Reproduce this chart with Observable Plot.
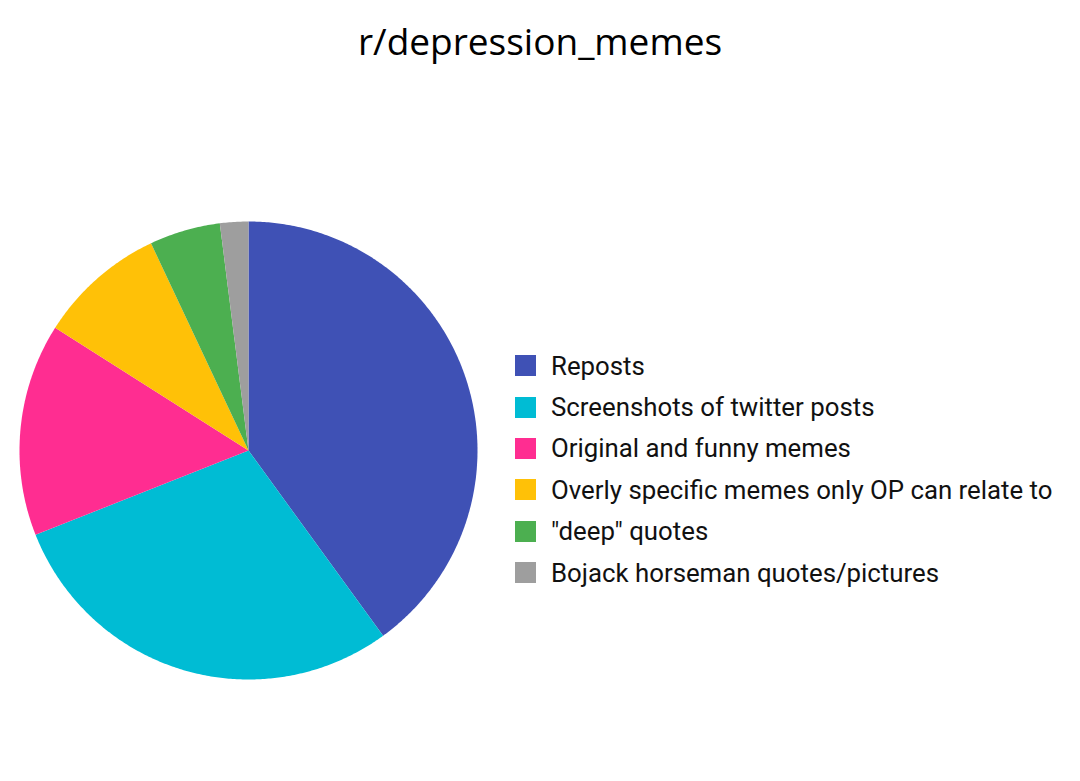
<!DOCTYPE html>
<html>
<head>
<meta charset="utf-8">
<script src="https://cdn.jsdelivr.net/npm/d3@7"></script>
<script src="https://cdn.jsdelivr.net/npm/@observablehq/plot@0.6"></script>
<style>
  html, body { margin: 0; padding: 0; background: #fff; }
  body { width: 1080px; height: 781px; position: relative; overflow: hidden; }
  #title { position: absolute; left: 0; top: 16px; width: 1080px; text-align: center;
    font-family: "Open Sans", sans-serif; font-size: 37px; color: #000; line-height: 50px; }
  #pie { position: absolute; left: 18px; top: 220px; }
  #legend { position: absolute; left: 515px; top: 345px; font-family: Roboto, sans-serif; font-size: 25.8px; color: #111; }
  .row { display: flex; align-items: center; height: 41.4px; }
  .sw { width: 21px; height: 21px; margin-right: 15px; }
</style>
</head>
<body>
<div id="title">r/depression_memes</div>
<div id="pie"></div>
<div id="legend"></div>
<script>
const categories = ["Reposts", "Screenshots of twitter posts", "Original and funny memes",
  "Overly specific memes only OP can relate to", "\"deep\" quotes", "Bojack horseman quotes/pictures"];
const values = [40, 29, 15, 9, 5, 2];
const colors = ["#3f51b5", "#00bcd4", "#ff2d91", "#ffc107", "#4caf50", "#9e9e9e"];

const arcs = d3.pie().sort(null).value(d => d.value)(categories.map((c, i) => ({category: c, value: values[i]})));
const pts = [];
for (const a of arcs) {
  const c = a.data.category;
  pts.push({category: c, x: 0, y: 0});
  const n = Math.max(2, Math.ceil((a.endAngle - a.startAngle) / (Math.PI / 360)));
  for (let k = 0; k <= n; k++) {
    const t = a.startAngle + (a.endAngle - a.startAngle) * k / n;
    pts.push({category: c, x: Math.sin(t), y: Math.cos(t)});
  }
}

const chart = Plot.plot({
  width: 460, height: 460, margin: 1,
  x: {domain: [-1, 1], axis: null},
  y: {domain: [-1, 1], axis: null},
  color: {domain: categories, range: colors},
  marks: [
    Plot.line(pts, {x: "x", y: "y", z: "category", fill: "category", stroke: "none", curve: "linear-closed"})
  ]
});
document.getElementById("pie").appendChild(chart);

const legend = document.getElementById("legend");
categories.forEach((c, i) => {
  const row = document.createElement("div");
  row.className = "row";
  const sw = document.createElement("div");
  sw.className = "sw";
  sw.style.background = colors[i];
  const lab = document.createElement("span");
  lab.textContent = c;
  row.appendChild(sw); row.appendChild(lab);
  legend.appendChild(row);
});
</script>
</body>
</html>
